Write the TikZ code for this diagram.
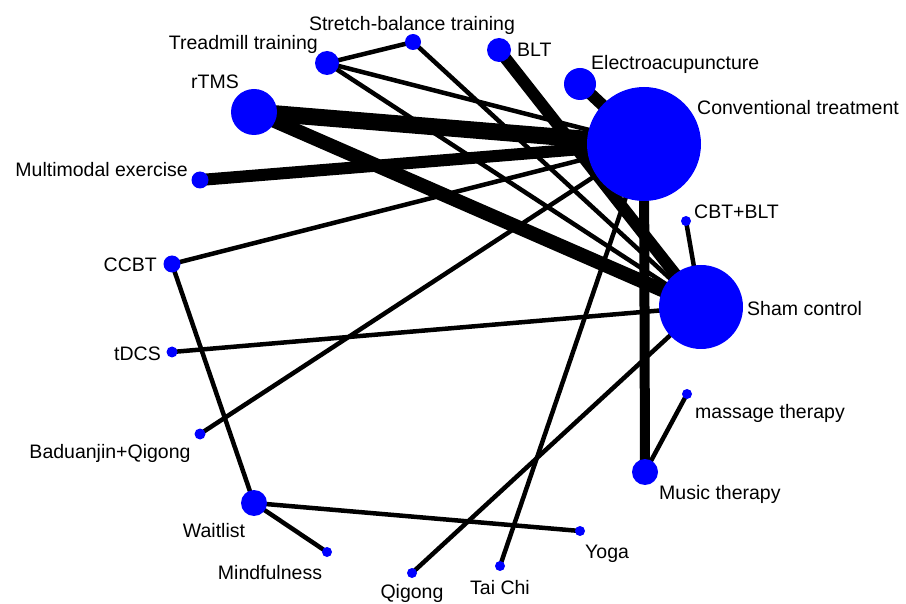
\documentclass[tikz,border=0pt]{standalone}
\usepackage{fontspec}
\setmainfont{Liberation Sans}
\usetikzlibrary{positioning, backgrounds}

\begin{document}
\begin{tikzpicture}[
    x=1pt, y=-1pt,
    arm/.style={circle, fill=blue, inner sep=0pt, minimum size=#1},
    lab/.style={inner sep=0pt, font=\fontsize{19.5}{22}\selectfont},
    link/.style={line width=#1},
    link/.default=4.5pt
]
\useasboundingbox (0,0) rectangle (906,604);

% Treatment nodes
\node[arm=114pt] (ct) at (644,144) {};
\node[arm=84pt] (sham) at (701,307) {};
\node[arm=46pt] (rtms) at (254,112) {};
\node[arm=32pt] (electro) at (580,84) {};
\node[arm=24pt] (blt) at (499,50) {};
\node[arm=24pt] (tread) at (327,63) {};
\node[arm=16pt] (stretch) at (413,42) {};
\node[arm=17pt] (multi) at (200,180) {};
\node[arm=17pt] (ccbt) at (172,264) {};
\node[arm=11pt] (tdcs) at (172,352) {};
\node[arm=11pt] (badu) at (200,434) {};
\node[arm=26pt] (wait) at (254,503) {};
\node[arm=10pt] (mind) at (327,552) {};
\node[arm=10pt] (qigong) at (412,573) {};
\node[arm=10pt] (taichi) at (500,566) {};
\node[arm=10pt] (yoga) at (580,531) {};
\node[arm=26pt] (music) at (645,472) {};
\node[arm=10pt] (massage) at (687,394) {};
\node[arm=10pt] (cbtblt) at (686,221) {};

% Labels
\node[lab, anchor=base west] (lct) at (697,115) {Conventional treatment};
\node[lab, anchor=base west] (lsham) at (747,316) {Sham control};
\node[lab, anchor=base] (lrtms) at (215,89) {rTMS};
\node[lab, anchor=base west] (lelectro) at (591,70) {Electroacupuncture};
\node[lab, anchor=base west] (lblt) at (517,57) {BLT};
\node[lab, anchor=base east] (ltread) at (318,50) {Treadmill training};
\node[lab, anchor=base] (lstretch) at (412,31) {Stretch-balance training};
\node[lab, anchor=base east] (lmulti) at (188,177) {Multimodal exercise};
\node[lab, anchor=base east] (lccbt) at (157,272) {CCBT};
\node[lab, anchor=base east] (ltdcs) at (161,360) {tDCS};
\node[lab, anchor=base] (lbadu) at (110,458) {Baduanjin+Qigong};
\node[lab, anchor=base] (lwait) at (214,537) {Waitlist};
\node[lab, anchor=base] (lmind) at (270,579) {Mindfulness};
\node[lab, anchor=base] (lqigong) at (412,598) {Qigong};
\node[lab, anchor=base] (ltaichi) at (500,594) {Tai Chi};
\node[lab, anchor=base west] (lyoga) at (585,558) {Yoga};
\node[lab, anchor=base west] (lmusic) at (659,499) {Music therapy};
\node[lab, anchor=base west] (lmassage) at (695,418) {massage therapy};
\node[lab, anchor=base west] (lcbtblt) at (694,219) {CBT+BLT};

% Comparisons
\begin{scope}[on background layer]
\draw[link=17pt] (rtms.center) -- (ct.center);
\draw[link=14pt] (rtms.center) -- (sham.center);
\draw[link=12pt] (multi.center) -- (ct.center);
\draw[link=12pt] (blt.center) -- (sham.center);
\draw[link=12pt] (electro.center) -- (ct.center);
\draw[link=10pt] (ct.center) -- (music.center);
\draw[link] (tread.center) -- (stretch.center);
\draw[link] (tread.center) -- (ct.center);
\draw[link] (tread.center) -- (sham.center);
\draw[link] (stretch.center) -- (sham.center);
\draw[link] (ccbt.center) -- (ct.center);
\draw[link] (ccbt.center) -- (wait.center);
\draw[link] (tdcs.center) -- (sham.center);
\draw[link] (badu.center) -- (ct.center);
\draw[link] (wait.center) -- (mind.center);
\draw[link] (wait.center) -- (yoga.center);
\draw[link] (qigong.center) -- (sham.center);
\draw[link] (taichi.center) -- (ct.center);
\draw[link] (cbtblt.center) -- (sham.center);
\draw[link] (massage.center) -- (music.center);
\end{scope}

\end{tikzpicture}
\end{document}
